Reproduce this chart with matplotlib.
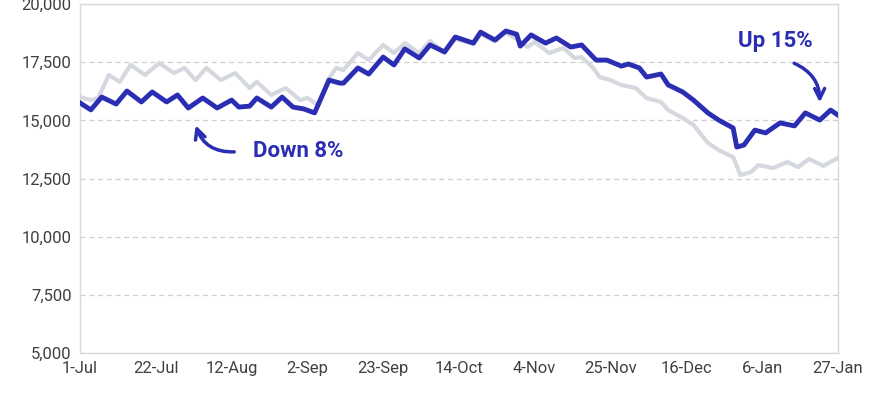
import numpy as np
import pandas as pd
import matplotlib
matplotlib.use("Agg")
import matplotlib.pyplot as plt

plt.rcParams['font.family'] = ['Roboto', 'DejaVu Sans']

start = pd.Timestamp('2023-07-01')

# days after 1-Jul and values
blue_days = [0, 3, 6, 10, 13, 17, 20, 24, 27, 30, 34, 38, 42, 44, 47, 49, 53, 56, 59, 62,
             65, 69, 72, 73, 77, 80, 84, 87, 90, 94, 97, 101, 104, 109, 111, 115, 118, 121,
             122, 125, 129, 132, 136, 139, 143, 146, 150, 152, 155, 157, 161, 163, 167, 170,
             174, 177, 181, 182, 184, 187, 190, 194, 198, 201, 205, 208, 210]
blue_vals = [15750, 15450, 16000, 15700, 16260, 15790, 16220, 15790, 16090, 15530, 15960,
             15530, 15870, 15570, 15610, 15960, 15570, 16000, 15570, 15490, 15320, 16730,
             16600, 16600, 17250, 16990, 17720, 17380, 18070, 17680, 18240, 17940, 18580,
             18320, 18790, 18450, 18840, 18700, 18190, 18670, 18320, 18540, 18150, 18240,
             17590, 17590, 17330, 17420, 17250, 16860, 16990, 16520, 16220, 15870, 15320,
             15010, 14670, 13850, 13940, 14580, 14460, 14890, 14760, 15320, 15010, 15440,
             15230]

gray_days = [0, 3, 5, 8, 11, 14, 18, 22, 26, 29, 32, 35, 39, 43, 47, 49, 53, 57, 61, 63,
             66, 69, 71, 73, 77, 80, 84, 87, 90, 94, 97, 101, 104, 109, 111, 115, 118, 121,
             124, 126, 130, 134, 137, 139, 142, 144, 147, 150, 154, 157, 161, 163, 167, 170,
             174, 177, 181, 183, 186, 188, 192, 196, 199, 202, 206, 210]
gray_vals = [16000, 15870, 15960, 16950, 16650, 17380, 16950, 17460, 17030, 17250, 16730,
             17250, 16730, 17030, 16390, 16650, 16090, 16390, 15870, 15960, 15660, 16820,
             17250, 17160, 17890, 17590, 18240, 17890, 18320, 17890, 18410, 17900, 18500,
             18280, 18700, 18400, 18760, 18500, 18150, 18370, 17890, 18110, 17680, 17720,
             17290, 16860, 16730, 16520, 16390, 15960, 15790, 15440, 15100, 14800, 14030,
             13720, 13420, 12650, 12780, 13080, 12950, 13210, 12990, 13340, 13040, 13380]

blue = '#2b2db3'
gray = '#d5d8de'

blue_dates = start + pd.to_timedelta(blue_days, unit='D')
gray_dates = start + pd.to_timedelta(gray_days, unit='D')


def day(n):
    return start + pd.Timedelta(days=n)


fig = plt.figure(figsize=(8.7, 4.0), dpi=100)
ax = fig.add_axes([0.092, 0.1175, 0.871, 0.8725])

ax.plot(gray_dates, gray_vals, color=gray, lw=3, solid_joinstyle='round', zorder=2)
ax.plot(blue_dates, blue_vals, color=blue, lw=3.5, solid_joinstyle='round', zorder=3)

ax.set_ylim(5000, 20000)
ax.set_yticks(np.arange(5000, 20001, 2500))
ax.yaxis.set_major_formatter(matplotlib.ticker.StrMethodFormatter('{x:,.0f}'))
ax.set_xlim(start, day(210))
ticks = [day(21 * i) for i in range(11)]
ax.set_xticks(ticks)
ax.set_xticklabels([f"{t.day}-{t.strftime('%b')}" for t in ticks])

ax.grid(axis='y', color='#cfcfcf', linestyle=(0, (4, 3)), lw=0.9)
ax.set_axisbelow(True)
for s in ax.spines.values():
    s.set_color('#d9d9d9')
    s.set_linewidth(1)
ax.tick_params(length=0, labelsize=12, colors='#404040', pad=6)

ax.text(day(60.5), 13700, 'Down 8%', color=blue, fontsize=16,
        fontweight='bold', ha='center', va='center')
ax.annotate('', xy=(day(31.8), 14900), xytext=(day(43.5), 13650),
            arrowprops=dict(arrowstyle='->', color=blue, lw=2.5,
                            connectionstyle='arc3,rad=-0.4', mutation_scale=18))

ax.text(day(192.8), 18400, 'Up 15%', color=blue, fontsize=16,
        fontweight='bold', ha='center', va='center')
ax.annotate('', xy=(day(205), 15650), xytext=(day(197.2), 17500),
            arrowprops=dict(arrowstyle='->', color=blue, lw=2.5,
                            connectionstyle='arc3,rad=-0.35', mutation_scale=18))

fig.savefig('out.png', dpi=100)
